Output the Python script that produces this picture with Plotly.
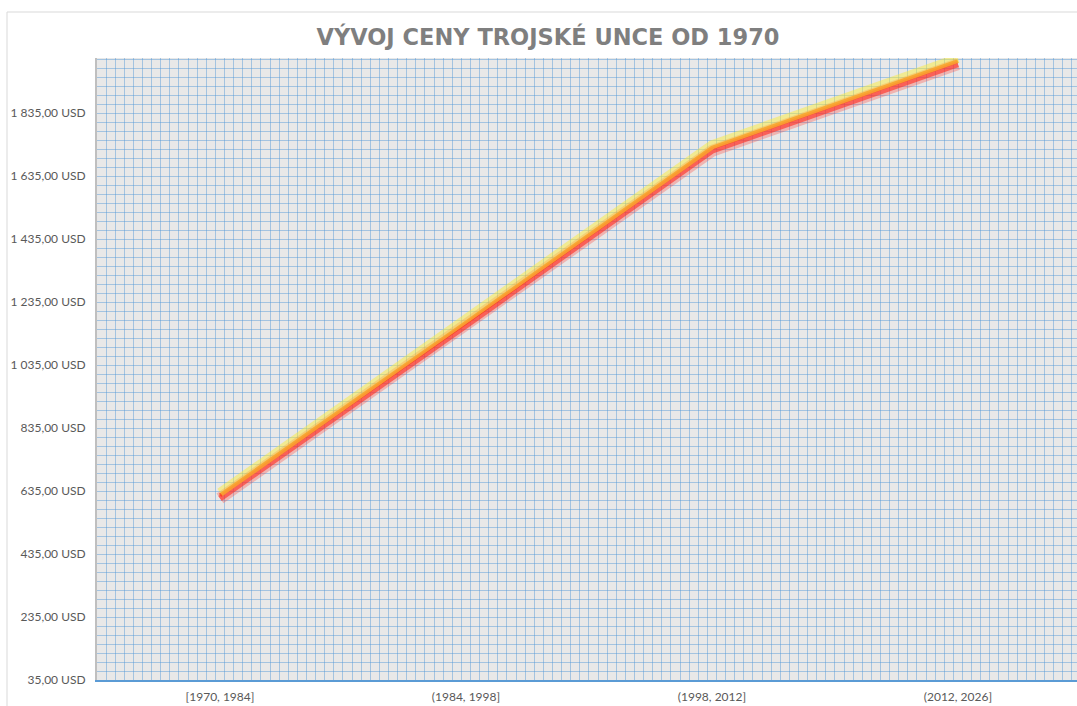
import plotly.graph_objects as go

# ---- data ----
categories = ["[1970, 1984]", "(1984, 1998]", "(1998, 2012]", "(2012, 2026]"]
prices = [621, 1170, 1725, 2000]
y_tick_values = [35, 235, 435, 635, 835, 1035, 1235, 1435, 1635, 1835]
y_tick_labels = ["35,00 USD", "235,00 USD", "435,00 USD", "635,00 USD", "835,00 USD",
                 "1 035,00 USD", "1 235,00 USD", "1 435,00 USD", "1 635,00 USD", "1 835,00 USD"]
title_text = "VÝVOJ CENY TROJSKÉ UNCE OD 1970"

W, H = 1077, 706
ML, MT, MB, MR = 97, 58, 26, 0
y_min, y_max = 35, 2010
x_min, x_max = -0.5, 3.484
plot_h = H - MT - MB
usd_per_px = (y_max - y_min) / plot_h

x_idx = list(range(len(categories)))

fig = go.Figure()

def shifted(px):
    d = px * usd_per_px
    return [y_min + d, y_max + d]

# glow / shadow layers (same data drawn through offset overlay axes)
fig.add_trace(go.Scatter(x=x_idx, y=prices, mode="lines", yaxis="y3",
                         line=dict(color="rgba(250,235,60,0.5)", width=9),
                         hoverinfo="skip", showlegend=False))
fig.add_trace(go.Scatter(x=x_idx, y=prices, mode="lines", yaxis="y2",
                         line=dict(color="rgba(255,60,50,0.3)", width=12),
                         hoverinfo="skip", showlegend=False))
fig.add_trace(go.Scatter(x=x_idx, y=prices, mode="lines", yaxis="y2",
                         line=dict(color="rgba(255,50,40,0.65)", width=6),
                         hoverinfo="skip", showlegend=False))
fig.add_trace(go.Scatter(x=x_idx, y=prices, mode="lines",
                         line=dict(color="#F07A28", width=4),
                         showlegend=False))

grid_color = "rgba(80,150,215,0.45)"
tick_font = dict(family="Lato", size=12, color="#595959")

fig.update_layout(
    width=W, height=H,
    margin=dict(l=ML, r=MR, t=MT, b=MB),
    paper_bgcolor="white",
    plot_bgcolor="#e8e8e8",
    title=dict(text=title_text, x=548 / W, xanchor="center", xref="container",
               y=1 - 37 / H, yanchor="middle", yref="container",
               font=dict(family="DejaVu Sans", size=22.5, color="#7f7f7f", weight="bold")),
    xaxis=dict(range=[x_min, x_max], tickmode="array", tickvals=x_idx, ticktext=categories,
               showgrid=False, zeroline=False,
               showline=True, linecolor="#5b9bd5", linewidth=2,
               ticks="", ticklabelstandoff=5, tickfont=tick_font,
               minor=dict(tickmode="linear", tick0=-0.5, dtick=1 / 27, showgrid=True,
                          gridcolor=grid_color, gridwidth=1, ticks="")),
    yaxis=dict(range=[y_min, y_max], tickmode="array", tickvals=y_tick_values,
               ticktext=y_tick_labels, showgrid=False, zeroline=False,
               showline=True, linecolor="#bfbfbf", linewidth=2,
               ticks="", ticklabelstandoff=7, tickfont=tick_font,
               minor=dict(tickmode="linear", tick0=y_min, dtick=200 / 7, showgrid=True,
                          gridcolor=grid_color, gridwidth=1, ticks="")),
    yaxis2=dict(range=shifted(3), overlaying="y", visible=False),
    yaxis3=dict(range=shifted(-3), overlaying="y", visible=False),
    shapes=[dict(type="rect", xref="paper", yref="paper",
                 x0=(7 - ML) / (W - ML - MR), x1=(W + 20 - ML) / (W - ML - MR),
                 y0=-(H + 20 - MT - plot_h) / plot_h - 0.1, y1=1 + (MT - 12) / plot_h,
                 line=dict(color="#d9d9d9", width=1), fillcolor="rgba(0,0,0,0)", layer="below")],
)

fig.write_html("out.html", config={"displayModeBar": False},
               post_script="document.body.style.margin='0';document.body.style.overflow='hidden';")
